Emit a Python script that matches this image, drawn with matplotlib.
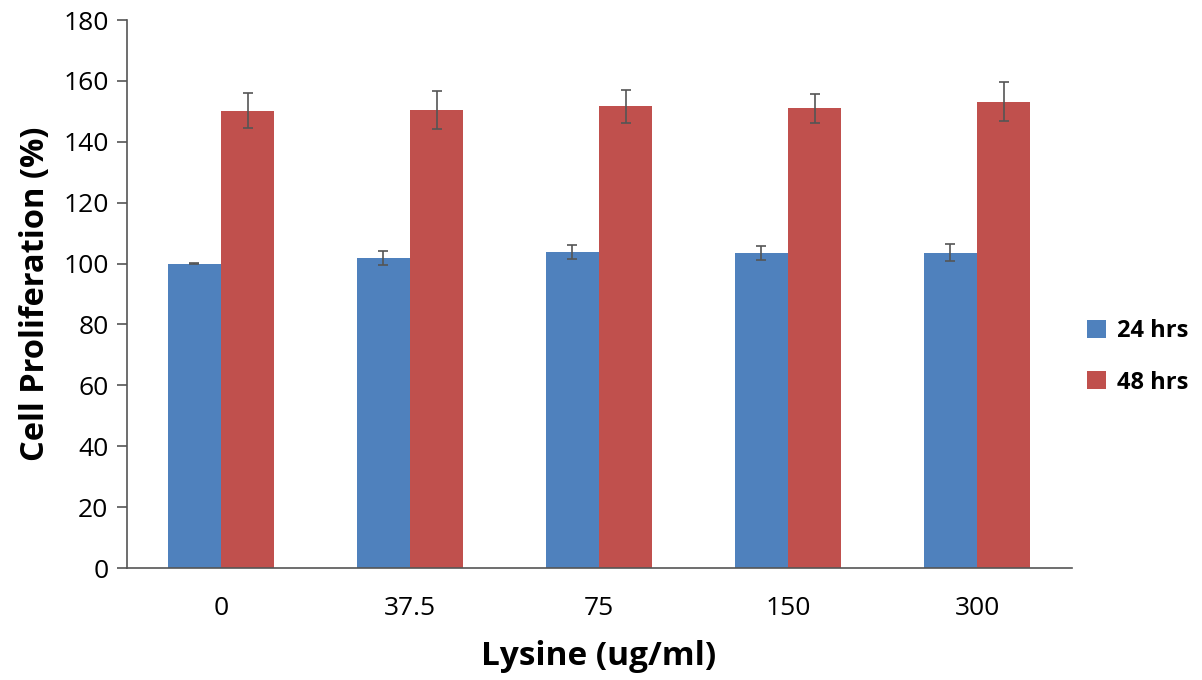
import matplotlib
matplotlib.use("Agg")
import matplotlib.pyplot as plt
import numpy as np

categories = ["0", "37.5", "75", "150", "300"]
series_names = ["24 hrs", "48 hrs"]
vals_24 = [100.0, 101.8, 103.7, 103.5, 103.5]
err_24 = [0.3, 2.2, 2.3, 2.4, 2.8]
vals_48 = [150.2, 150.5, 151.6, 151.0, 153.2]
err_48 = [5.7, 6.3, 5.3, 4.7, 6.4]
colors = ["#4F81BD", "#C0504D"]

plt.rcParams['font.family'] = ['Open Sans', 'DejaVu Sans']

fig = plt.figure(figsize=(12.02, 6.8), dpi=100)
ax = fig.add_axes([126.5/1202, (680-568)/680, 945/1202, 548/680])

x = np.arange(len(categories))
w = 0.283
ekw = dict(ecolor="#555555", elinewidth=1.2, capsize=3.8, capthick=1.2)
ax.bar(x - w/2, vals_24, w, yerr=err_24, color=colors[0], label=series_names[0], error_kw=ekw)
ax.bar(x + w/2, vals_48, w, yerr=err_48, color=colors[1], label=series_names[1], error_kw=ekw)

ax.set_xlim(-0.5, len(categories) - 0.5)
ax.set_ylim(0, 180)
ax.set_yticks(np.arange(0, 181, 20))
ax.set_xticks(x)
ax.set_xticklabels(categories)
ax.tick_params(axis='x', length=0, labelsize=19, pad=20)
ax.tick_params(axis='y', length=7, width=1.2, color="#555555", labelsize=19, pad=6, direction='out')
for s in ["top", "right"]:
    ax.spines[s].set_visible(False)
for s in ["left", "bottom"]:
    ax.spines[s].set_color("#555555")
    ax.spines[s].set_linewidth(1.2)

ax.set_ylabel("Cell Proliferation (%)", fontsize=23.5, fontweight='bold', labelpad=8)
ax.set_xlabel("Lysine (ug/ml)", fontsize=24, fontweight='bold', labelpad=14)

leg = fig.legend(loc='center left', bbox_to_anchor=(1087/1202, 1 - 357/680),
                 frameon=False, prop={'weight': 'bold', 'size': 17}, borderpad=0,
                 borderaxespad=0,
                 handlelength=0.8, handleheight=0.8, handletextpad=0.45, labelspacing=1.15)

fig.savefig("out.png", dpi=100)
